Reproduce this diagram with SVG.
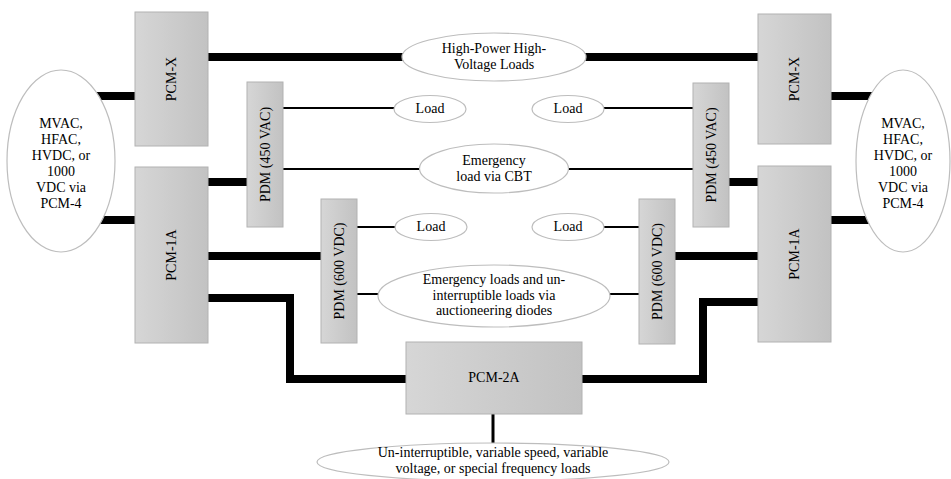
<svg xmlns="http://www.w3.org/2000/svg" width="951" height="479" viewBox="0 0 951 479">
<defs>
<linearGradient id="g" x1="0" y1="0" x2="1" y2="0">
<stop offset="0" stop-color="#d6d6d6"/>
<stop offset="1" stop-color="#c2c2c2"/>
</linearGradient>
<style>
.box{fill:url(#g);stroke:#b2b2b2;stroke-width:1}
.ell{fill:#ffffff;stroke:#bdbdbd;stroke-width:1.2}
.t{font-size:14px;fill:#000;text-anchor:middle}
.thick{stroke:#000;stroke-width:8;fill:none}
.thin{stroke:#000;stroke-width:2;fill:none}
</style>
</defs>
<rect width="951" height="479" fill="#ffffff"/>
<g id="connectors">
<line class="thick" x1="95" y1="96" x2="135" y2="96"/>
<line class="thick" x1="80" y1="220" x2="135" y2="220"/>
<line class="thick" x1="208" y1="57" x2="758" y2="57"/>
<line class="thick" x1="208" y1="182" x2="247" y2="182"/>
<line class="thick" x1="208" y1="256" x2="321" y2="256"/>
<path class="thick" d="M208,298 H290 V379 H406"/>
<path class="thick" d="M758,302 H703 V379 H582"/>
<line class="thick" x1="729" y1="182" x2="758" y2="182"/>
<line class="thick" x1="675" y1="256" x2="758" y2="256"/>
<line class="thick" x1="831" y1="96" x2="880" y2="96"/>
<line class="thick" x1="831" y1="220" x2="880" y2="220"/>
<line class="thin" x1="283" y1="108" x2="400" y2="108"/>
<line class="thin" x1="283" y1="169" x2="693" y2="169"/>
<line class="thin" x1="596" y1="108" x2="693" y2="108"/>
<line class="thin" x1="357" y1="227" x2="400" y2="227"/>
<line class="thin" x1="596" y1="227" x2="639" y2="227"/>
<line class="thin" x1="357" y1="294" x2="639" y2="294"/>
<line x1="493" y1="414" x2="493" y2="445" stroke="#000" stroke-width="3"/>
</g>
<g font-family="'Liberation Serif', 'Times New Roman', 'DejaVu Serif', serif">
<g id="src-left">
<ellipse class="ell" cx="61" cy="161" rx="54" ry="91"/>
<text class="t" x="61" y="128">MVAC,</text>
<text class="t" x="61" y="144">HFAC,</text>
<text class="t" x="61" y="160">HVDC, or</text>
<text class="t" x="61" y="176">1000</text>
<text class="t" x="61" y="192">VDC via</text>
<text class="t" x="61" y="208">PCM-4</text>
</g>
<g id="src-right">
<ellipse class="ell" cx="903" cy="161" rx="47" ry="91"/>
<text class="t" x="903" y="128">MVAC,</text>
<text class="t" x="903" y="144">HFAC,</text>
<text class="t" x="903" y="160">HVDC, or</text>
<text class="t" x="903" y="176">1000</text>
<text class="t" x="903" y="192">VDC via</text>
<text class="t" x="903" y="208">PCM-4</text>
</g>
<g id="pcmx-left">
<rect class="box" x="135" y="12" width="73" height="134"/>
<text class="t" transform="translate(176,79) rotate(-90)">PCM-X</text>
</g>
<g id="pcm1a-left">
<rect class="box" x="135" y="167" width="73" height="176"/>
<text class="t" transform="translate(176,255) rotate(-90)">PCM-1A</text>
</g>
<g id="pdm450-left">
<rect class="box" x="247" y="82" width="36" height="145"/>
<text class="t" transform="translate(270,154.5) rotate(-90)">PDM (450 VAC)</text>
</g>
<g id="pdm600-left">
<rect class="box" x="321" y="199" width="36" height="144"/>
<text class="t" transform="translate(344,271) rotate(-90)">PDM (600 VDC)</text>
</g>
<g id="pcmx-right">
<rect class="box" x="758" y="14" width="73" height="130"/>
<text class="t" transform="translate(799,79) rotate(-90)">PCM-X</text>
</g>
<g id="pcm1a-right">
<rect class="box" x="758" y="166" width="73" height="176"/>
<text class="t" transform="translate(799,254) rotate(-90)">PCM-1A</text>
</g>
<g id="pdm450-right">
<rect class="box" x="693" y="83" width="36" height="144"/>
<text class="t" transform="translate(716,155) rotate(-90)">PDM (450 VAC)</text>
</g>
<g id="pdm600-right">
<rect class="box" x="639" y="199" width="36" height="145"/>
<text class="t" transform="translate(662,271.5) rotate(-90)">PDM (600 VDC)</text>
</g>
<g id="pcm2a">
<rect class="box" x="406" y="342" width="176" height="72"/>
<text class="t" x="494" y="382">PCM-2A</text>
</g>
<g id="hphv">
<ellipse class="ell" cx="494" cy="57" rx="92" ry="24"/>
<text class="t" x="494" y="53">High-Power High-</text>
<text class="t" x="494" y="69">Voltage Loads</text>
</g>
<g id="load1">
<ellipse class="ell" cx="430" cy="109" rx="36" ry="13.5"/>
<text class="t" x="430" y="113">Load</text>
</g>
<g id="load2">
<ellipse class="ell" cx="568" cy="109" rx="36" ry="13.5"/>
<text class="t" x="568" y="113">Load</text>
</g>
<g id="emcbt">
<ellipse class="ell" cx="494" cy="168.5" rx="74.5" ry="24.5"/>
<text class="t" x="494" y="165">Emergency</text>
<text class="t" x="494" y="181">load via CBT</text>
</g>
<g id="load3">
<ellipse class="ell" cx="431" cy="227" rx="36" ry="13.5"/>
<text class="t" x="431" y="231">Load</text>
</g>
<g id="load4">
<ellipse class="ell" cx="568" cy="227" rx="36" ry="13.5"/>
<text class="t" x="568" y="231">Load</text>
</g>
<g id="emdiodes">
<ellipse class="ell" cx="494" cy="296" rx="116" ry="31"/>
<text class="t" x="494" y="284">Emergency loads and un-</text>
<text class="t" x="494" y="300">interruptible loads via</text>
<text class="t" x="494" y="315">auctioneering diodes</text>
</g>
<g id="special">
<ellipse class="ell" cx="493" cy="462" rx="176" ry="19"/>
<text class="t" x="493" y="457">Un-interruptible, variable speed, variable</text>
<text class="t" x="493" y="473">voltage, or special frequency loads</text>
</g>
</g>
</svg>
